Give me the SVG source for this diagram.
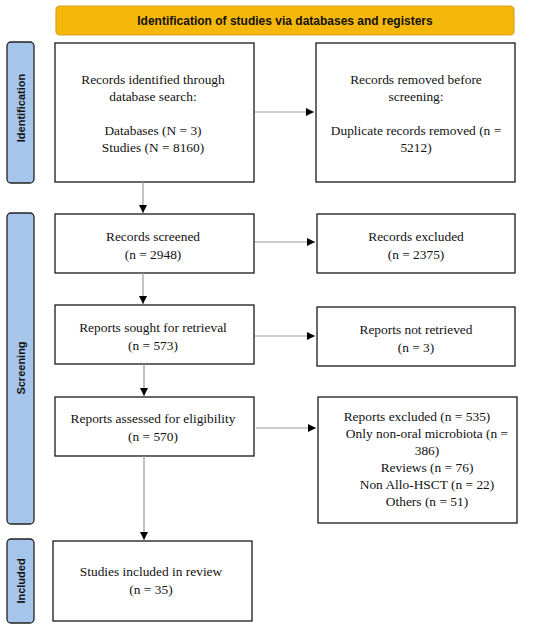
<svg xmlns="http://www.w3.org/2000/svg" width="550" height="630" viewBox="0 0 550 630">
<defs>
<marker id="ah" viewBox="0 0 10 10" refX="10" refY="5" markerWidth="8" markerHeight="8" markerUnits="userSpaceOnUse" orient="auto">
<path d="M0,0 L10,5 L0,10 z" fill="#000"/>
</marker>
<style>
.box{fill:#fff;stroke:#1a1a1a;stroke-width:1.3}
.side{fill:#a6c5ea;stroke:#222;stroke-width:1.3}
.hdr{fill:#f4b70a;stroke:#d9a21f;stroke-width:1.2}
.t{font-family:"Liberation Serif","Times New Roman",serif;font-size:13.4px;fill:#111;text-anchor:middle}
.st{font-family:"Liberation Sans",Arial,sans-serif;font-size:11px;font-weight:bold;fill:#111;text-anchor:middle}
.ht{font-family:"Liberation Sans",Arial,sans-serif;font-size:12px;font-weight:bold;fill:#111;text-anchor:middle}
.c{stroke:#9a9a9a;stroke-width:1.2;fill:none;marker-end:url(#ah)}
</style>
</defs>
<rect width="550" height="630" fill="#fff"/>
<g id="header">
<rect class="hdr" x="56" y="6" width="458" height="29" rx="4"/>
<text class="ht" x="285" y="24.5">Identification of studies via databases and registers</text>
</g>
<g id="side-identification">
<rect class="side" x="7" y="42" width="27" height="141" rx="4"/>
<text class="st" transform="translate(24.5,108) rotate(-90)">Identification</text>
</g>
<g id="side-screening">
<rect class="side" x="7" y="213" width="27" height="311" rx="4"/>
<text class="st" transform="translate(24.5,368) rotate(-90)">Screening</text>
</g>
<g id="side-included">
<rect class="side" x="7" y="539" width="27" height="84" rx="4"/>
<text class="st" transform="translate(24.5,581) rotate(-90)">Included</text>
</g>
<g id="n-identified">
<rect class="box" x="55" y="43" width="199" height="139"/>
<text class="t" x="153" y="84">Records identified through</text>
<text class="t" x="153" y="101">database search:</text>
<text class="t" x="153" y="135">Databases (N = 3)</text>
<text class="t" x="153" y="152">Studies (N = 8160)</text>
</g>
<g id="n-removed">
<rect class="box" x="316" y="43" width="199" height="139"/>
<text class="t" x="416" y="84">Records removed before</text>
<text class="t" x="416" y="101">screening:</text>
<text class="t" x="416" y="135">Duplicate records removed (n =</text>
<text class="t" x="416" y="152">5212)</text>
</g>
<g id="n-screened">
<rect class="box" x="55" y="214" width="199" height="59"/>
<text class="t" x="153" y="241">Records screened</text>
<text class="t" x="153" y="259">(n = 2948)</text>
</g>
<g id="n-excluded">
<rect class="box" x="317" y="214" width="198" height="59"/>
<text class="t" x="416" y="241">Records excluded</text>
<text class="t" x="416" y="259">(n = 2375)</text>
</g>
<g id="n-sought">
<rect class="box" x="55" y="305" width="199" height="59"/>
<text class="t" x="153" y="332">Reports sought for retrieval</text>
<text class="t" x="153" y="350">(n = 573)</text>
</g>
<g id="n-notretrieved">
<rect class="box" x="317" y="307" width="198" height="59"/>
<text class="t" x="416" y="334">Reports not retrieved</text>
<text class="t" x="416" y="352">(n = 3)</text>
</g>
<g id="n-assessed">
<rect class="box" x="55" y="397" width="199" height="59"/>
<text class="t" x="153" y="423">Reports assessed for eligibility</text>
<text class="t" x="153" y="441">(n = 570)</text>
</g>
<g id="n-reportsexcluded">
<rect class="box" x="318" y="397" width="199" height="126"/>
<text class="t" x="417" y="421">Reports excluded (n = 535)</text>
<text class="t" x="427" y="438">Only non-oral microbiota (n =</text>
<text class="t" x="427" y="455">386)</text>
<text class="t" x="427" y="472">Reviews (n = 76)</text>
<text class="t" x="427" y="489">Non Allo-HSCT (n = 22)</text>
<text class="t" x="427" y="506">Others (n = 51)</text>
</g>
<g id="n-included">
<rect class="box" x="53" y="541" width="199" height="80"/>
<text class="t" x="151" y="576">Studies included in review</text>
<text class="t" x="151" y="594">(n = 35)</text>
</g>
<g id="connectors">
<line class="c" x1="255" y1="112" x2="314" y2="112"/>
<line class="c" x1="143" y1="182" x2="143" y2="213"/>
<line class="c" x1="255" y1="242" x2="315" y2="242"/>
<line class="c" x1="143" y1="273" x2="143" y2="304"/>
<line class="c" x1="255" y1="336" x2="315" y2="336"/>
<line class="c" x1="144" y1="364" x2="144" y2="396"/>
<line class="c" x1="256" y1="428" x2="316" y2="428"/>
<line class="c" x1="144" y1="456" x2="144" y2="540"/>
</g>
</svg>
